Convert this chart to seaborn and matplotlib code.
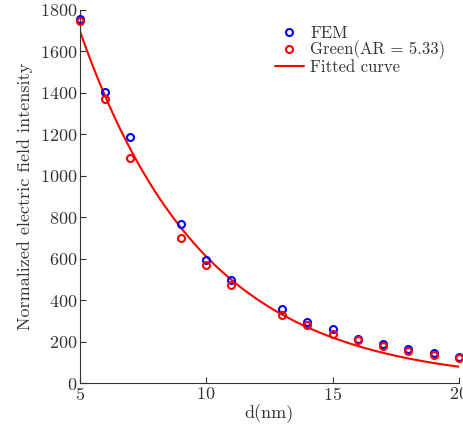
import numpy as np
import pandas as pd
import matplotlib
matplotlib.use("Agg")
import matplotlib.pyplot as plt
import seaborn as sns

# distanze (nm) e intensità normalizzate
d_nm = [5, 6, 7, 9, 10, 11, 13, 14, 15, 16, 17, 18, 19, 20]
fem = [1758, 1405, 1185, 767, 594, 497, 356, 294, 259, 214, 187, 166, 145, 127]
green = [1748, 1372, 1086, 702, 571, 471, 330, 278, 238, 206, 179, 156, 135, 119]

# parametri della curva fittata: I = A * exp(-b * (d - 5))
fit_A = 1699
fit_b = 0.2045

x_ticks = [5, 10, 15, 20]
y_ticks = [0, 200, 400, 600, 800, 1000, 1200, 1400, 1600, 1800]

sns.set_style("ticks")
plt.rcParams["font.family"] = ["cmr10", "DejaVu Serif"]
plt.rcParams["mathtext.fontset"] = "cm"
plt.rcParams["axes.formatter.use_mathtext"] = True

df = pd.DataFrame({"d": d_nm, "FEM": fem, "Green(AR = 5.33)": green})
df_long = df.melt(id_vars="d", var_name="serie", value_name="I")

d_fit = np.linspace(5, 20, 200)
df_fit = pd.DataFrame({"d": d_fit, "I": fit_A * np.exp(-fit_b * (d_fit - 5))})

fig = plt.figure(figsize=(4.64, 4.30), dpi=100)
ax = fig.add_axes([0.172, 0.109, 0.817, 0.868])

sns.lineplot(data=df_fit, x="d", y="I", color="red", lw=1.5, ax=ax,
             label="Fitted curve", zorder=2)
for nome, col in [("FEM", "blue"), ("Green(AR = 5.33)", "red")]:
    sub = df_long[df_long["serie"] == nome]
    ax.plot(sub["d"], sub["I"], ls="none", marker="o", ms=5, mfc="none",
            mec=col, mew=1.5, label=nome, zorder=3, clip_on=False)

ax.set_xlim(5, 20)
ax.set_ylim(0, 1800)
ax.set_xticks(x_ticks)
ax.set_yticks(y_ticks)
ax.tick_params(direction="in", length=4, labelsize=13, colors="#333333", pad=2)
for s in ["left", "bottom"]:
    ax.spines[s].set_color("#333333")
sns.despine(ax=ax)
ax.set_xlabel("d(nm)", fontsize=13, color="#333333", labelpad=1)
ax.set_ylabel("Normalized electric field intensity", fontsize=13, color="#333333",
              labelpad=5)

h, l = ax.get_legend_handles_labels()
leg = ax.legend([h[1], h[2], h[0]], [l[1], l[2], l[0]], loc="upper right",
                frameon=False, fontsize=12, handlelength=1.7, handletextpad=0.4,
                labelspacing=0.0, borderaxespad=0.3, bbox_to_anchor=(0.995, 0.99))
for t in leg.get_texts():
    t.set_color("#333333")

fig.savefig("out.png", dpi=100)
